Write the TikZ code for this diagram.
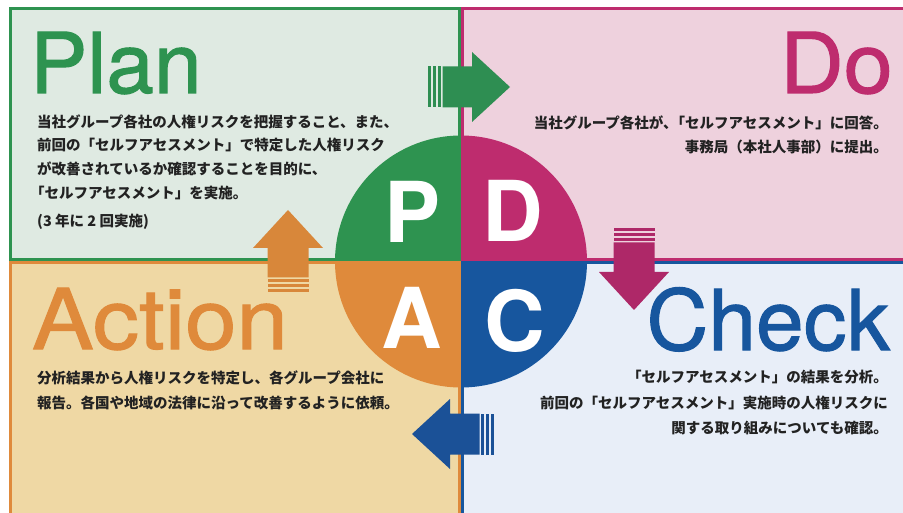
\documentclass[tikz,border=0pt]{standalone}
\usepackage{fontspec}
\setmainfont{TeX Gyre Heros}
\newfontfamily\jpfont{Noto Sans CJK JP}
\newfontfamily\titlefont[FakeBold=1.2]{TeX Gyre Heros}
\definecolor{bgP}{HTML}{DFEAE2}
\definecolor{bgD}{HTML}{EED1DD}
\definecolor{bgA}{HTML}{EFD8A4}
\definecolor{bgC}{HTML}{E8EEF8}
\definecolor{cP}{HTML}{2E9350}
\definecolor{cD}{HTML}{BE2C6E}
\definecolor{cA}{HTML}{DF8A3B}
\definecolor{cC}{HTML}{17569E}
\definecolor{arP}{HTML}{2E8E52}
\definecolor{arD}{HTML}{AE2868}
\definecolor{arA}{HTML}{D8873A}
\definecolor{arC}{HTML}{1B5197}
\definecolor{txt}{HTML}{222222}
\tikzset{
  jp/.style={font=\jpfont\bfseries\fontsize{14.5}{14.5}\selectfont, text=txt, inner sep=0pt},
  ttl/.style={font=\titlefont\fontsize{84}{84}\selectfont, inner sep=0pt},
  letter/.style={font=\bfseries\fontsize{84}{84}\selectfont, text=white, inner sep=0pt},
  boxline/.style={line width=3pt},
}
\newcommand{\pdcaarrow}[1]{%
  \fill[#1] (0,-20.5) rectangle (3,20.5);
  \fill[#1] (5,-20.5) rectangle (8,20.5);
  \fill[#1] (10,-20.5) rectangle (13,20.5);
  \fill[#1] (14.5,-20.5) -- (44,-20.5) -- (44,-35) -- (82,0) -- (44,35) -- (44,20.5) -- (14.5,20.5) -- cycle;
}
\begin{document}
\begin{tikzpicture}[x=1pt,y=-1pt]
\useasboundingbox (0,0) rectangle (903,513);
\fill[white] (0,0) rectangle (903,513);
\begin{scope}
\clip (0,0) rectangle (903,513);
% boxes
\fill[bgP] (9,7) rectangle (461,261);
\draw[boxline,cP] (10.5,8.5) rectangle (459.5,259.5);
\fill[bgD] (461,7) rectangle (915,261);
\draw[boxline,cD] (462.5,8.5) rectangle (912,259.5);
\fill[bgA] (9,261) rectangle (461,525);
\draw[boxline,cA] (10.5,262.5) rectangle (459.5,522);
\fill[bgC] (461,261) rectangle (915,525);
\draw[boxline,cC] (462.5,262.5) rectangle (912,522);
% circle
\begin{scope}
\clip (461,261.5) circle[radius=126];
\fill[cP] (330,130) rectangle (461,261.5);
\fill[cD] (461,130) rectangle (590,261.5);
\fill[cA] (330,261.5) rectangle (461,390);
\fill[cC] (461,261.5) rectangle (590,390);
\end{scope}
% arrows
\begin{scope}[shift={(428,87)}]\pdcaarrow{arP}\end{scope}
\begin{scope}[shift={(634,228)},rotate=-90]\pdcaarrow{arD}\end{scope}
\begin{scope}[shift={(494,434)},rotate=180]\pdcaarrow{arC}\end{scope}
\begin{scope}[shift={(288,292)},rotate=90]\pdcaarrow{arA}\end{scope}
\end{scope}
% letters
\node[letter] (P) at (413,212) {P};
\node[letter] (D) at (512.4,211) {D};
\node[letter] (A) at (412,318) {A};
\node[letter] (C) at (514.7,321) {C};
% titles
\node[ttl,text=cP,anchor=base west,xscale=1.02] (plan) at (30,93) {Plan};
\node[ttl,text=cD,anchor=base east,xscale=1.05] (do) at (893,93) {Do};
\node[ttl,text=cA,anchor=base west,xscale=1.1] (action) at (31.8,349) {Action};
\node[ttl,text=cC,anchor=base east,xscale=1.02] (check) at (890,350) {Check};
% texts
\node[jp,anchor=west] (p1) at (37,121.5) {当社グループ各社の人権リスクを把握すること、また、};
\node[jp,anchor=west] (p2) at (37,145) {前回の「セルフアセスメント」で特定した人権リスク};
\node[jp,anchor=west] (p3) at (37,168.5) {が改善されているか確認することを目的に、};
\node[jp,anchor=west] (p4) at (30,193) {「セルフアセスメント」を実施。};
\node[jp,anchor=west] (p5) at (37,222) {(3 年に 2 回実施)};
\node[jp,anchor=east] (d1) at (888,123) {当社グループ各社が、\kern-7pt「セルフアセスメント」に回答。};
\node[jp,anchor=east] (d2) at (888,146.7) {事務局（本社人事部）に提出。};
\node[jp,anchor=west] (a1) at (37,377.5) {分析結果から人権リスクを特定し、各グループ会社に};
\node[jp,anchor=west] (a2) at (37,402.5) {報告。各国や地域の法律に沿って改善するように依頼。};
\node[jp,anchor=east] (c1) at (888,377.5) {「セルフアセスメント」の結果を分析。};
\node[jp,anchor=east] (c2) at (888,402.5) {前回の「セルフアセスメント」実施時の人権リスクに};
\node[jp,anchor=east] (c3) at (888,427.5) {関する取り組みについても確認。};
\end{tikzpicture}
\end{document}
